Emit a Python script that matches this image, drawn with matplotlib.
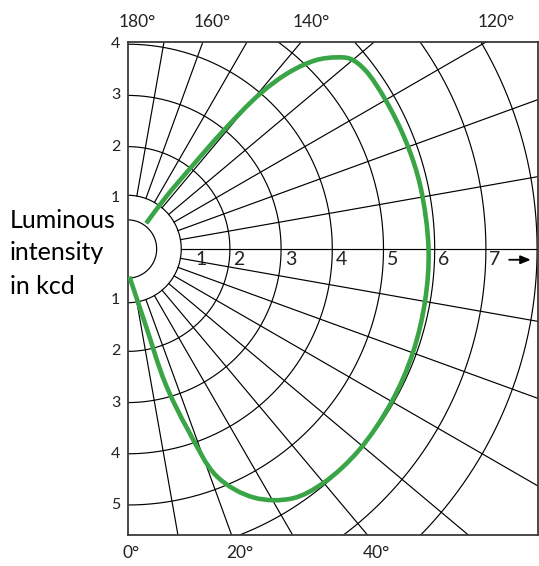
import numpy as np
import matplotlib
matplotlib.use("Agg")
import matplotlib.pyplot as plt
from matplotlib.path import Path
from matplotlib.patches import PathPatch

plt.rcParams['font.family'] = ['Lato', 'DejaVu Sans']

# ---- data (angles in degrees measured from nadir 0° up to 180°, intensity in kcd)
angle_deg = [4, 13.5, 15.7, 18.5, 21.5, 27, 33.5,
             40, 49, 60, 70, 80, 90, 102, 111, 120, 127, 130.5, 132.5,
             135, 137.5, 139.5, 141, 142, 143.5, 144]
intensity_kcd = [0.54, 1.56, 2.72, 3.73, 4.78, 5.45, 5.84,
                 5.96, 5.99, 5.96, 5.93, 5.90, 5.88, 5.85, 5.83, 5.82, 5.81, 5.72, 5.54,
                 5.22, 4.69, 3.99, 2.95, 2.08, 1.27, 0.62]

grid_radii = [2, 3, 4, 5, 6, 7, 8]
radial_angles = list(range(10, 180, 10))
axis_labels = ['1', '2', '3', '4', '5', '6', '7']
upper_labels = ['4', '3', '2', '1']
upper_values = [4, 3, 2, 1]
lower_labels = ['1', '2', '3', '4', '5']
lower_values = [1, 2, 3, 4, 5]
top_angle_labels = [180, 160, 140, 120]
bottom_angle_labels = [0, 20, 40]
ylabel_lines = ["Luminous", "intensity", "in kcd"]

# ---- styles / layout
W, H = 539, 566
fig = plt.figure(figsize=(W / 100, H / 100), dpi=100)
left_px, right_px, top_px, bot_px = 127.5, 537.5, 41.5, 535.0
ax = fig.add_axes([left_px / W, (H - bot_px) / H, (right_px - left_px) / W, (bot_px - top_px) / H])
scale = 51.2
x_max = (right_px - left_px) / scale
y_top = (249 - top_px) / scale
y_bot = -(bot_px - 249) / scale
ax.set_xlim(0, x_max)
ax.set_ylim(y_bot, y_top)
ax.set_xticks([])
ax.set_yticks([])
for sp in ax.spines.values():
    sp.set_color('#3a3a3a')
    sp.set_linewidth(1.3)

def polar_xy(r, th_deg):
    th = np.radians(th_deg)
    return np.asarray(r) * np.sin(th), -np.asarray(r) * np.cos(th)

grid_kw = dict(color='black', lw=0.85, zorder=1)
hub_r = 1.05
inner_r = 0.57
th_full = np.linspace(0, 180, 400)
for r in [inner_r, hub_r] + grid_radii:
    x, y = polar_xy(r, th_full)
    ax.plot(x, y, **grid_kw)
for a in radial_angles:
    x, y = polar_xy(np.array([hub_r, 14.0]), np.array([a, a]))
    ax.plot(x, y, **grid_kw)

# luminous intensity curve: centripetal Catmull-Rom rendered as Bezier path
cx, cy = polar_xy(np.array(intensity_kcd), np.array(angle_deg))
pts = np.column_stack([cx, cy])
n = len(pts)
ext = np.vstack([2 * pts[0] - pts[1], pts, 2 * pts[-1] - pts[-2]])
alpha = 0.5
verts = [pts[0]]
codes = [Path.MOVETO]
for i in range(1, n):
    p0, p1, p2, p3 = ext[i - 1], ext[i], ext[i + 1], ext[i + 2]
    d1 = max(np.linalg.norm(p1 - p0), 1e-9) ** alpha
    d2 = max(np.linalg.norm(p2 - p1), 1e-9) ** alpha
    d3 = max(np.linalg.norm(p3 - p2), 1e-9) ** alpha
    b1 = (d1 ** 2 * p2 - d2 ** 2 * p0 + (2 * d1 ** 2 + 3 * d1 * d2 + d2 ** 2) * p1) / (3 * d1 * (d1 + d2))
    b2 = (d3 ** 2 * p1 - d2 ** 2 * p3 + (2 * d3 ** 2 + 3 * d3 * d2 + d2 ** 2) * p2) / (3 * d3 * (d3 + d2))
    verts += [b1, b2, p2]
    codes += [Path.CURVE4] * 3
curve = PathPatch(Path(verts, codes), facecolor='none', edgecolor='#3aa546', lw=3.3,
                  joinstyle='round', capstyle='butt', zorder=3)
ax.add_patch(curve)

txt_color = '#222222'
# horizontal axis labels
lab_y = -0.21
for i, lab in enumerate(axis_labels):
    r = i + 1
    xpos = 1.33 if r == 1 else r + 0.07
    ax.text(xpos, lab_y, lab, fontsize=14, ha='left', va='center', color=txt_color)
ax.annotate('', xy=(7.93, lab_y), xytext=(7.40, lab_y),
            arrowprops=dict(arrowstyle='-|>,head_length=0.6,head_width=0.25', color='black', lw=1.3))

# vertical side labels
for lab, v in zip(upper_labels, upper_values):
    ax.text(-0.14, v, lab, fontsize=11.5, ha='right', va='center', color=txt_color, clip_on=False)
for lab, v in zip(lower_labels, lower_values):
    ax.text(-0.14, -v, lab, fontsize=11.5, ha='right', va='center', color=txt_color, clip_on=False)

# angle labels on top and bottom
for a in top_angle_labels:
    xpos = y_top * np.tan(np.radians(180 - a)) - 0.18
    ax.text(xpos, y_top + 0.39, f"{a}°", fontsize=12.5, ha='left', va='center',
            color=txt_color, clip_on=False)
for a in bottom_angle_labels:
    xpos = -y_bot * np.tan(np.radians(a)) - 0.1
    ax.text(xpos, y_bot - 0.36, f"{a}°", fontsize=12.5, ha='left', va='center',
            color=txt_color, clip_on=False)

# left title, one line per text
line_centers_px = [220, 253, 286]
for line, yc in zip(ylabel_lines, line_centers_px):
    fig.text(10 / W, (H - yc) / H, line, fontsize=18, ha='left', va='center', color='black')

fig.savefig('out.png', dpi=100)
